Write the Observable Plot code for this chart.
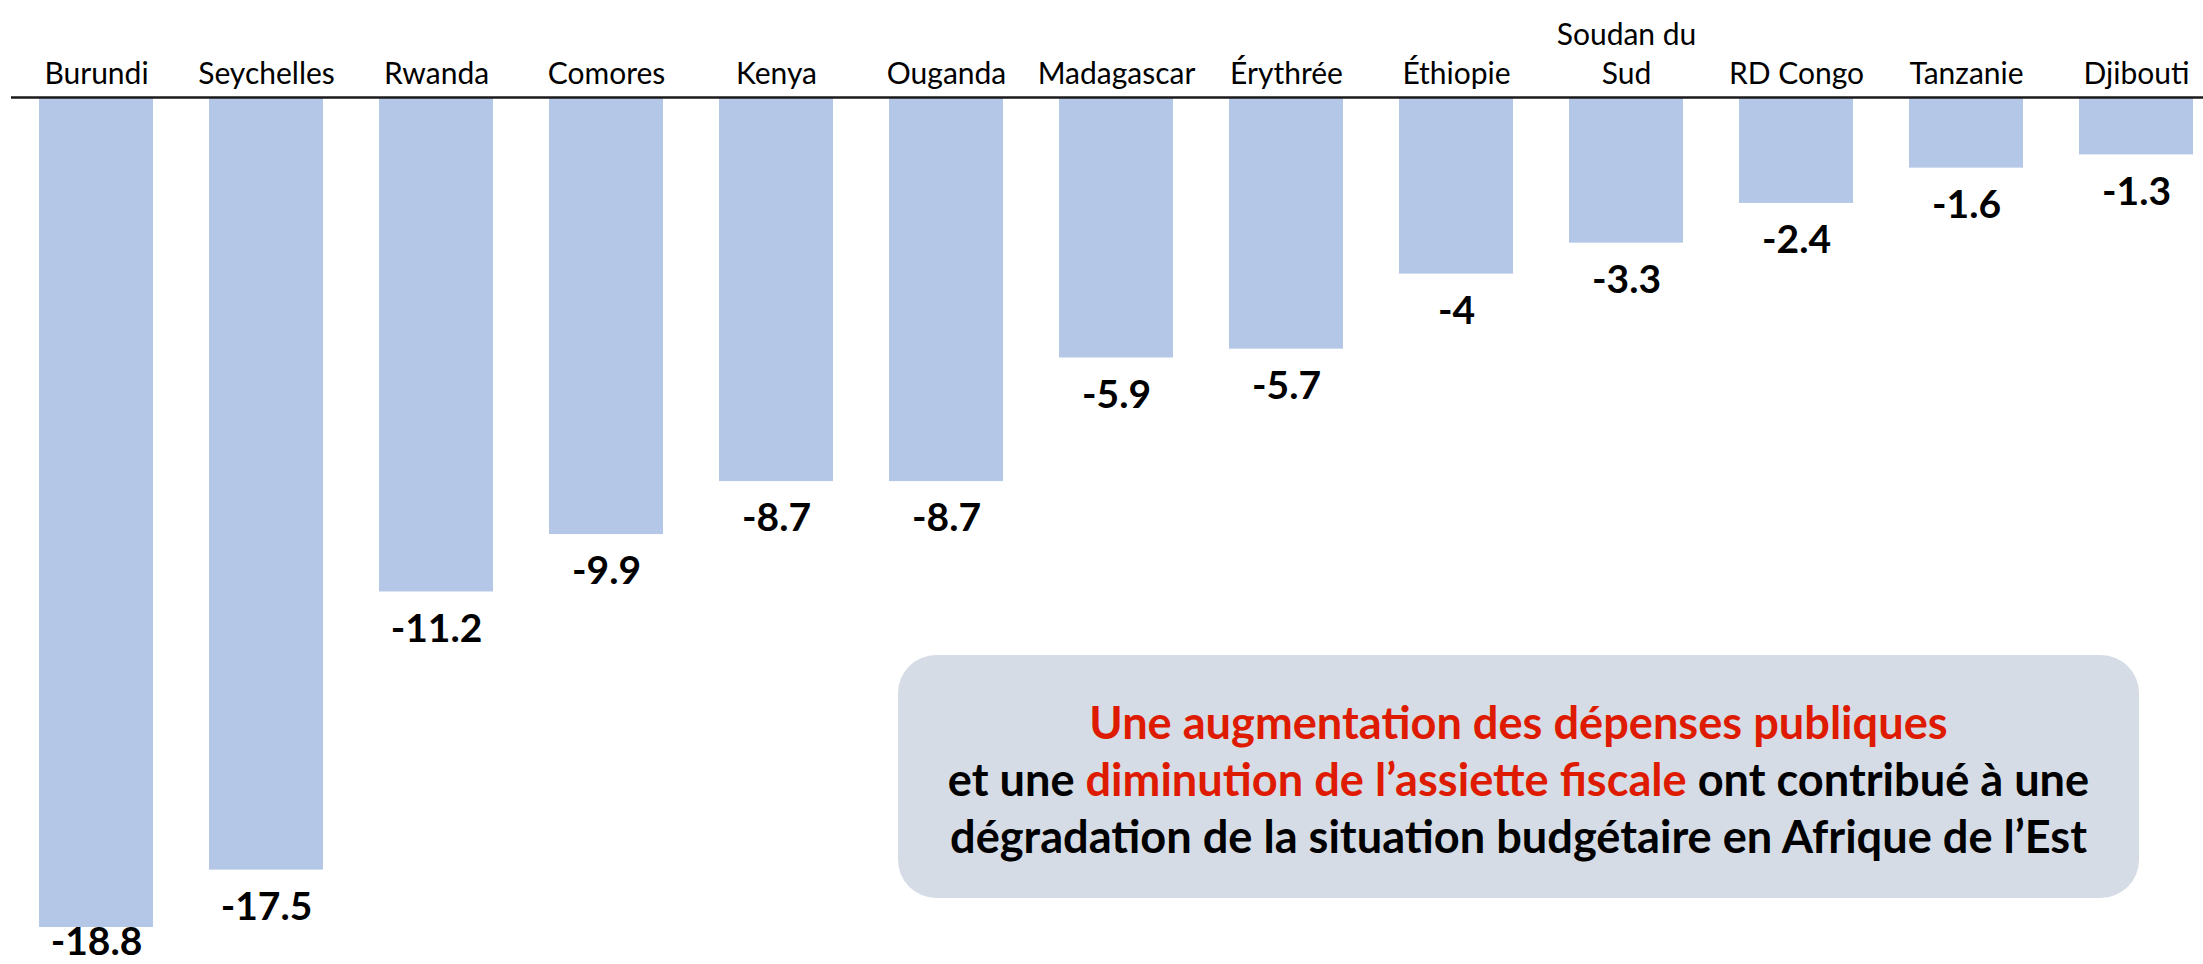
<!DOCTYPE html>
<html><head><meta charset="utf-8">
<script src="https://cdn.jsdelivr.net/npm/d3@7"></script>
<script src="https://cdn.jsdelivr.net/npm/@observablehq/plot@0.6"></script>
<style>
html,body{margin:0;padding:0;background:#fff;}
#wrap{position:relative;width:2203px;height:964px;overflow:hidden;}
#note{position:absolute;left:898px;top:655px;width:1241px;height:243px;background:#d6dce5;border-radius:38px;box-sizing:border-box;padding-top:38px;text-align:center;font-family:Lato,sans-serif;font-weight:700;font-size:36px;line-height:57px;color:#000;white-space:nowrap;}
#note .red{color:#de1b00;}
</style></head><body>
<div id="wrap"></div>
<script>
const countries = ["Burundi","Seychelles","Rwanda","Comores","Kenya","Ouganda","Madagascar","Érythrée","Éthiopie","Soudan du Sud","RD Congo","Tanzanie","Djibouti"];
const values = [-18.8,-17.5,-11.2,-9.9,-8.7,-8.7,-5.9,-5.7,-4,-3.3,-2.4,-1.6,-1.3];
const tickLabels = ["Burundi","Seychelles","Rwanda","Comores","Kenya","Ouganda","Madagascar","Érythrée","Éthiopie","Soudan du\nSud","RD Congo","Tanzanie","Djibouti"];
const valueLabels = ["-18.8","-17.5","-11.2","-9.9","-8.7","-8.7","-5.9","-5.7","-4","-3.3","-2.4","-1.6","-1.3"];
const noteLine1 = [{t:"Une augmentation des dépenses publiques", red:true}];
const noteLine2 = [{t:"et une ", red:false},{t:"diminution de l’assiette fiscale", red:true},{t:" ont contribué à une", red:false}];
const noteLine3 = [{t:"dégradation de la situation budgétaire en Afrique de l’Est", red:false}];

const table = countries.map((c,i)=>({country:c, value:values[i], label:valueLabels[i]}));
const yMin = -18.8;
// keep value labels inside the frame: labels never anchor below this level
const labelFloor = yMin + 0.5;

const chart = Plot.plot({
  width: 2203,
  height: 964,
  marginTop: 97,
  marginBottom: 37,
  marginLeft: 11,
  marginRight: 0,
  style: {fontFamily: "Lato, sans-serif", color: "#000", background: "#fff"},
  x: {domain: countries, paddingInner: 0.329, paddingOuter: 0.1115, align: 0.737, axis: null, label: null},
  y: {domain: [yMin, 0], axis: null},
  marks: [
    Plot.barY(table, {x: "country", y: "value", fill: "#b4c7e7"}),
    Plot.ruleY([0], {stroke: "#1a1a1a", strokeWidth: 2.5}),
    Plot.text(table, {x: "country", y: d => Math.max(d.value, labelFloor), text: "label", lineAnchor: "top", dy: 22, fontSize: 39, fontWeight: "bold", fontFamily: "Lato, sans-serif", fill: "#000"}),
    Plot.axisX({anchor: "top", label: null, tickSize: 0, tickPadding: 14, fontSize: 30, fontFamily: "Lato, sans-serif", lineHeight: 1.28, fill: "#000",
      tickFormat: d => tickLabels[countries.indexOf(d)]})
  ]
});
const wrap = document.getElementById("wrap");
wrap.appendChild(chart);

const note = document.createElement("div");
note.id = "note";
[noteLine1, noteLine2, noteLine3].forEach((line) => {
  const div = document.createElement("div");
  const inner = document.createElement("span");
  inner.className = "line";
  line.forEach(seg => {
    const s = document.createElement("span");
    s.textContent = seg.t;
    if (seg.red) s.className = "red";
    inner.appendChild(s);
  });
  div.appendChild(inner);
  note.appendChild(div);
});
wrap.appendChild(note);
const last = note.querySelectorAll(".line")[2];
const w = last.getBoundingClientRect().width;
if (w > 0) note.style.fontSize = (36 * 1137 / w).toFixed(2) + "px";
</script>
</body></html>
